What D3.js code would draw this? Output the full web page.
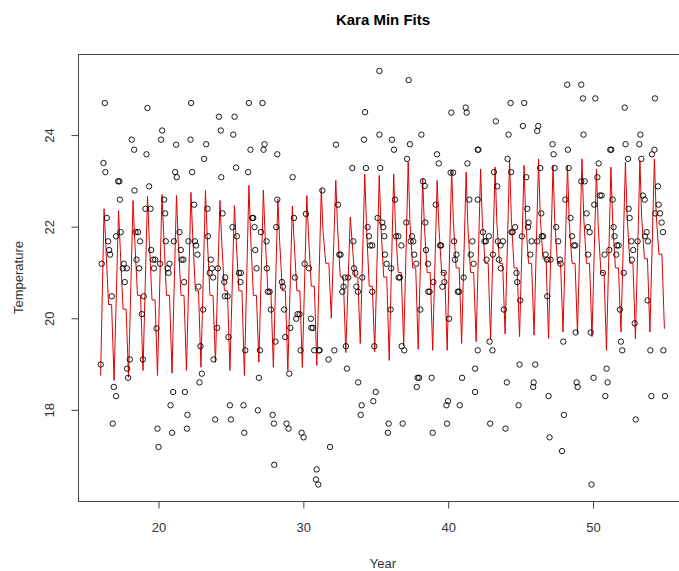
<!DOCTYPE html>
<html>
<head>
<meta charset="utf-8">
<title>Kara Min Fits</title>
<style>
    body { margin: 0; background: #fff; }
    svg { display: block; font-family: "Liberation Sans", Arial, sans-serif; }
    .tick-label { font-size: 13px; fill: #333; }
    .axis-title { font-size: 13px; fill: #333; }
    .title { font-size: 15px; font-weight: bold; fill: #000; }
    .obs { fill: none; stroke: #000; stroke-width: 0.9; }
    .fit { fill: none; stroke: #e00000; stroke-width: 1; }
</style>
<script src="https://d3js.org/d3.v7.min.js"></script>
</head>
<body>
<svg id="chart" width="679" height="571"></svg>
<script>
const obs = [
    [16.29,24.70],[19.24,24.59],[20.25,24.10],[18.15,23.90],[20.18,23.90],[18.32,23.68],[19.17,23.58],[21.22,23.79],
    [16.20,23.39],[16.33,23.19],[21.15,23.19],[21.26,23.08],[17.21,22.99],[17.30,22.99],[18.34,22.79],[19.35,22.88],
    [17.33,22.59],[20.39,22.59],[16.43,22.19],[19.10,22.39],[19.45,22.39],[20.46,22.29],[17.07,21.79],[17.39,21.88],
    [18.41,21.88],[18.59,21.88],[16.52,21.68],[18.73,21.68],[20.50,21.68],[21.06,21.68],[16.59,21.49],[16.66,21.39],
    [19.49,21.49],[16.08,21.19],[17.60,21.19],[17.53,21.09],[17.81,21.09],[18.48,21.28],[18.66,21.09],[19.63,21.28],
    [19.77,21.28],[19.68,21.09],[20.11,21.19],[20.76,21.19],[20.64,21.09],[20.69,20.99],[17.67,20.79],[16.77,20.48],
    [18.98,20.48],[18.85,20.09],[19.86,19.78],[18.02,19.10],[18.92,19.10],[16.01,18.99],[17.83,18.90],[17.90,18.70],
    [16.91,18.50],[17.07,18.30],[21.01,18.39],[20.83,18.10],[16.84,17.70],[19.93,17.59],[20.94,17.50],[20.00,17.19],

    [22.25,24.70],[26.24,24.70],[27.18,24.70],[24.17,24.40],[25.25,24.40],[24.30,24.10],[25.16,24.01],[22.21,23.90],
    [23.29,23.80],[26.35,23.68],[27.25,23.68],[27.32,23.80],[28.20,23.58],[23.15,23.48],[22.32,23.19],[24.33,23.08],
    [25.36,23.29],[26.19,23.19],[22.46,22.48],[23.38,22.39],[24.42,22.29],[28.20,22.59],[26.47,22.19],[26.54,22.19],
    [26.63,21.99],[25.11,21.99],[21.45,21.88],[28.13,21.99],[23.41,21.79],[25.41,21.79],[27.07,21.88],[22.07,21.68],
    [22.51,21.68],[22.60,21.59],[27.46,21.68],[21.54,21.49],[22.69,21.39],[26.68,21.49],[21.59,21.28],[21.72,21.28],
    [23.61,21.28],[23.68,21.09],[24.10,21.09],[23.54,20.99],[23.77,20.89],[25.55,20.99],[25.69,20.99],[24.60,20.89],
    [25.66,20.79],[21.77,20.79],[24.54,20.79],[22.76,20.69],[26.77,21.09],[27.48,21.09],[27.55,20.58],[27.67,20.58],
    [24.58,20.48],[24.77,20.48],[23.08,20.19],[27.76,20.19],[24.05,19.79],[24.83,19.59],[28.08,19.49],[22.90,19.39],
    [25.99,19.30],[27.00,19.30],[23.80,19.10],[22.99,18.79],[22.83,18.60],[26.93,18.70],[21.82,18.39],[24.93,18.10],
    [25.87,18.10],[26.86,17.99],[22.00,17.89],[27.88,17.89],[23.91,17.79],[25.00,17.79],[21.96,17.59],[27.97,17.70],
    [25.92,17.50],[27.99,16.80],

    [34.26,24.50],[34.19,23.90],[32.25,23.79],[33.38,23.28],[34.32,23.28],[29.26,23.08],[31.31,22.79],[32.39,22.48],
    [29.35,22.19],[30.18,22.28],[33.45,21.68],[35.13,22.19],[34.44,21.99],[34.53,21.79],[34.62,21.59],[34.76,21.59],
    [32.48,21.39],[32.57,21.39],[30.09,21.19],[30.39,21.09],[28.52,20.79],[28.59,20.69],[29.42,20.89],[32.87,20.89],
    [33.10,20.89],[33.50,21.09],[33.59,20.99],[32.69,20.58],[32.78,20.69],[34.76,20.58],[33.66,20.69],[33.77,20.58],
    [34.07,20.89],[28.68,20.19],[29.60,20.09],[29.51,19.99],[29.74,20.09],[30.52,19.99],[30.55,19.79],[30.66,19.79],
    [29.10,19.79],[28.75,19.59],[29.81,19.30],[30.75,19.30],[31.08,19.30],[31.12,19.30],[31.74,19.10],[32.14,19.30],
    [32.94,19.39],[34.90,19.39],[29.03,18.79],[33.01,18.90],[33.79,18.60],[34.03,18.10],[33.96,17.89],[35.00,18.39],
    [34.83,18.19],[28.84,17.70],[28.98,17.59],[29.88,17.50],[30.02,17.40],[31.84,17.19],[30.92,16.70],[30.87,16.48],
    [31.03,16.37],

    [35.25,25.40],[37.27,25.20],[35.25,24.01],[36.12,23.90],[36.26,23.68],[37.36,23.80],[38.15,24.01],[35.31,23.28],
    [37.16,23.48],[39.23,23.58],[39.35,23.38],[40.17,23.18],[40.34,23.18],[40.22,24.49],[41.21,24.60],[41.28,24.49],
    [41.33,23.38],[42.04,23.68],[42.09,23.68],[38.26,22.99],[38.38,22.89],[36.33,22.59],[39.14,22.48],[41.46,22.59],
    [42.04,22.59],[35.45,22.09],[35.52,21.99],[35.59,21.79],[37.11,22.09],[38.42,22.09],[36.40,21.79],[36.56,21.79],
    [37.50,21.79],[37.41,21.68],[37.59,21.68],[40.41,21.68],[41.67,21.68],[36.77,21.59],[39.44,21.59],[39.51,21.59],
    [35.64,21.39],[37.66,21.39],[38.47,21.49],[40.57,21.39],[40.47,21.28],[41.56,21.39],[41.76,21.19],[35.75,21.19],
    [36.07,21.09],[37.80,21.19],[38.61,21.19],[36.58,20.89],[36.67,20.89],[39.69,20.99],[38.98,20.79],[39.74,20.79],
    [41.07,20.89],[39.60,20.69],[38.63,20.58],[38.72,20.58],[40.66,20.58],[40.75,20.58],[36.03,20.19],[38.08,20.19],
    [40.06,19.99],[42.04,19.30],[36.79,19.39],[36.97,19.30],[37.89,18.70],[37.99,18.70],[38.86,18.70],[37.83,18.50],
    [40.96,18.70],[41.86,18.90],[41.86,18.39],[39.99,18.19],[39.88,18.10],[40.80,18.10],[35.89,17.70],[35.84,17.50],
    [36.86,17.70],[38.93,17.50],[39.92,17.70],

    [48.22,25.10],[44.31,24.70],[45.25,24.70],[43.29,24.30],[45.16,24.20],[46.22,24.20],[46.15,24.09],[44.17,24.01],
    [47.21,23.80],[47.28,23.58],[48.27,23.68],[44.10,23.48],[44.35,23.19],[43.16,23.19],[43.39,22.88],[46.36,23.28],
    [47.35,23.28],[48.32,23.28],[45.39,23.08],[48.09,22.59],[45.46,22.39],[46.43,22.29],[45.55,22.09],[42.40,21.88],
    [44.63,21.99],[45.51,21.99],[44.38,21.88],[44.45,21.88],[45.09,21.79],[46.47,21.79],[46.56,21.79],[47.46,21.99],
    [48.45,22.19],[48.55,21.79],[42.60,21.68],[42.51,21.68],[42.81,21.79],[43.43,21.68],[43.78,21.68],[43.62,21.59],
    [45.76,21.68],[46.15,21.68],[47.60,21.68],[48.68,21.59],[48.78,21.59],[43.09,21.39],[45.67,21.39],[46.73,21.39],
    [42.65,21.28],[43.50,21.28],[43.64,21.09],[46.82,21.28],[47.07,21.28],[47.72,21.28],[47.76,21.19],[44.72,20.99],
    [44.77,20.79],[46.84,20.48],[44.98,20.39],[43.85,20.19],[42.86,19.49],[43.06,19.30],[47.95,19.49],[44.93,18.99],
    [46.01,18.99],[44.05,18.60],[45.90,18.60],[45.87,18.50],[46.93,18.30],[44.86,18.10],[47.99,17.89],[42.90,17.70],
    [43.96,17.59],[47.00,17.40],[47.86,17.10],[48.80,19.69],[48.87,18.60],[48.94,18.50],

    [49.19,25.10],[49.31,24.80],[50.16,24.80],[52.19,24.60],[54.28,24.80],[49.35,24.01],[52.25,23.80],[53.27,24.01],
    [53.20,23.80],[54.24,23.68],[51.19,23.68],[51.26,23.68],[52.42,23.48],[53.34,23.48],[54.07,23.58],[50.39,23.38],
    [49.19,22.99],[49.42,22.99],[50.30,23.08],[50.48,22.68],[50.60,22.68],[50.09,22.48],[54.49,22.88],[51.36,22.59],
    [52.46,22.39],[53.45,22.68],[53.57,22.59],[49.56,22.29],[52.53,22.19],[54.53,22.48],[54.30,22.29],[54.63,22.29],
    [49.65,21.99],[49.77,21.88],[51.42,21.99],[51.49,21.79],[54.74,22.09],[54.83,21.88],[53.71,21.88],[53.59,21.79],
    [51.66,21.59],[51.77,21.59],[52.65,21.68],[53.08,21.68],[53.80,21.68],[52.78,21.49],[49.67,21.39],[50.80,21.39],
    [51.13,21.49],[51.61,21.39],[52.69,21.28],[50.69,20.99],[52.12,20.99],[53.77,20.39],[51.86,20.19],[49.84,19.69],
    [52.88,19.89],[51.93,19.49],[52.02,19.30],[53.96,19.30],[54.86,19.30],[50.04,18.70],[50.94,18.90],[51.01,18.60],
    [50.85,18.30],[54.03,18.30],[54.97,18.30],[52.95,17.79],[49.90,16.37]
];

// fitted curve: one seasonal cycle per year
const fitStart = [16.0, 18.75];
const fitYears = d3.range(16, 55);
const fitPeak = [22.39,22.35,22.57,22.67,22.70,22.68,22.75,22.79,22.57,22.46,
                 22.90,22.80,22.60,22.45,22.68,22.83,23.01,22.21,23.15,23.12,
                 23.15,23.41,23.05,23.01,23.23,23.19,23.26,23.30,23.44,23.34,
                 23.48,23.34,23.34,23.48,23.26,23.30,23.41,23.44,23.48];
const fitShoulder = [21.60,21.50,21.70,21.70,21.80,21.70,21.80,21.80,21.70,21.70,
                     21.80,21.80,21.70,21.70,21.80,21.90,22.00,21.70,22.00,22.00,
                     22.00,22.10,22.00,22.00,22.10,22.00,22.10,22.10,22.20,22.10,
                     22.20,22.10,22.10,22.20,22.00,22.10,22.20,22.20,22.30];
const fitKnee = [20.30,20.20,20.50,20.40,20.50,20.50,20.60,20.50,20.60,20.60,
                 20.50,20.60,20.60,20.60,20.70,21.20,20.90,20.90,20.70,20.90,
                 21.00,21.10,21.00,21.00,21.10,21.00,21.20,21.20,21.10,21.20,
                 21.30,21.20,21.20,21.20,21.00,21.10,21.20,21.30,21.40];
const fitLow  = [18.64,18.71,18.86,18.75,18.80,18.86,18.93,19.04,18.86,18.75,
                 19.04,18.93,18.86,18.93,18.97,20.00,19.25,19.45,19.27,19.08,
                 19.40,19.32,19.30,19.30,19.45,19.49,19.55,19.66,19.60,19.63,
                 19.56,19.70,19.67,19.60,19.30,19.70,19.55,19.70,19.77];

const xTicks = [20, 30, 40, 50];
const yTicks = [18, 20, 22, 24];

const plot = { left: 78, right: 688, top: 54, bottom: 501 };

const svg = d3.select("#chart");

const x = d3.scaleLinear().domain([14.44, 56.56]).range([plot.left, plot.right]);
const y = d3.scaleLinear().domain([16.01, 25.77]).range([plot.bottom, plot.top]);

// seasonal curve vertices (time within each year is where the picture shows them)
const fitLine = [fitStart];
fitYears.forEach((yr, i) => {
    fitLine.push([yr + 0.24, fitPeak[i]]);
    fitLine.push([yr + 0.36, fitShoulder[i]]);
    fitLine.push([yr + 0.55, fitKnee[i]]);
    fitLine.push([yr + 0.76, fitKnee[i]]);
    fitLine.push([yr + 0.93, fitLow[i]]);
});

svg.append("path")
    .datum(fitLine)
    .attr("class", "fit")
    .attr("d", d3.line().x(d => x(d[0])).y(d => y(d[1])));

svg.append("g")
    .selectAll("circle")
    .data(obs)
    .join("circle")
    .attr("class", "obs")
    .attr("cx", d => x(d[0]))
    .attr("cy", d => y(d[1]))
    .attr("r", 2.7);

// plot frame (its right edge lies outside the picture)
svg.append("rect")
    .attr("x", plot.left + 0.5)
    .attr("y", plot.top + 0.5)
    .attr("width", plot.right - plot.left)
    .attr("height", plot.bottom - plot.top)
    .attr("fill", "none")
    .attr("stroke", "#444")
    .attr("stroke-width", 1);

const xAxis = svg.append("g")
    .attr("transform", `translate(0,${plot.bottom + 0.5})`)
    .call(d3.axisBottom(x).tickValues(xTicks).tickSize(7).tickPadding(14).tickSizeOuter(0));
xAxis.select(".domain").remove();
xAxis.selectAll("line").attr("stroke", "#444");
xAxis.selectAll("text").attr("class", "tick-label").attr("font-size", null).attr("font-family", null).attr("fill", null);

const yAxis = svg.append("g")
    .attr("transform", `translate(${plot.left + 0.5},0)`)
    .call(d3.axisLeft(y).tickValues(yTicks).tickSize(7).tickSizeOuter(0));
yAxis.select(".domain").remove();
yAxis.selectAll("line").attr("stroke", "#444");
yAxis.selectAll("text")
    .attr("class", "tick-label")
    .attr("font-size", null).attr("font-family", null).attr("fill", null)
    .attr("x", null).attr("dy", null)
    .attr("text-anchor", "middle")
    .attr("transform", "translate(-25,0) rotate(-90)");

svg.append("text")
    .attr("class", "title")
    .attr("x", (plot.left + plot.right) / 2)
    .attr("y", 25)
    .attr("text-anchor", "middle")
    .text("Kara Min Fits");

svg.append("text")
    .attr("class", "axis-title")
    .attr("x", (plot.left + plot.right) / 2)
    .attr("y", 568)
    .attr("text-anchor", "middle")
    .text("Year");

svg.append("text")
    .attr("class", "axis-title")
    .attr("transform", `translate(23,${(plot.top + plot.bottom) / 2}) rotate(-90)`)
    .attr("text-anchor", "middle")
    .text("Temperature");
</script>
</body>
</html>
